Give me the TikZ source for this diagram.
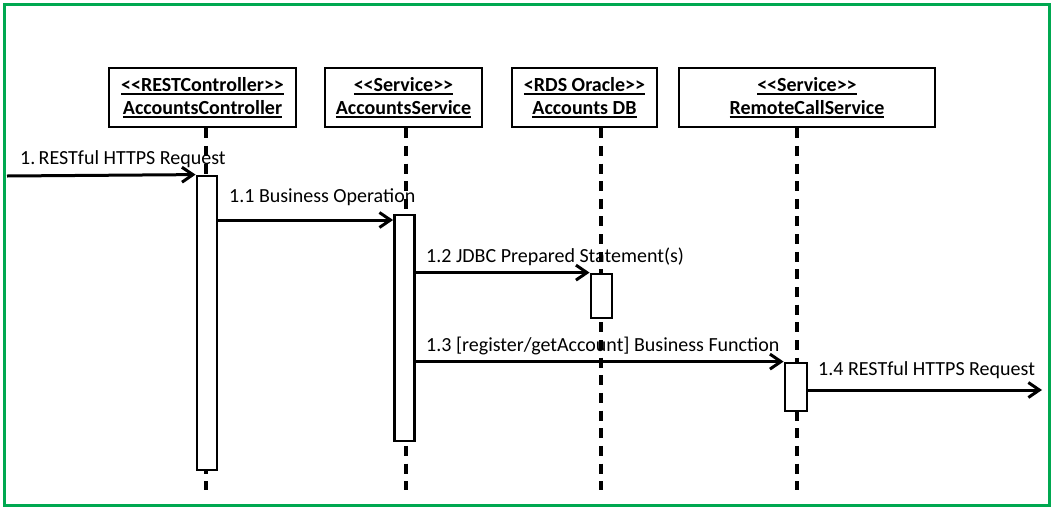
\documentclass[tikz,border=0pt]{standalone}
\usepackage{fontspec}
\setmainfont{Carlito}
\usetikzlibrary{arrows.meta}
\definecolor{frameg}{RGB}{0,168,80}
\newcommand\ulinebox[1]{\setbox0\hbox{#1}\rlap{\rule[-3.2pt]{\wd0}{1.8pt}}\box0}
\begin{document}
\begin{tikzpicture}[x=1pt,y=-1pt,
  every node/.style={font=\fontsize{20}{23}\selectfont, inner sep=0pt},
  lbox/.style={draw, line width=2.4pt, minimum height=59pt, align=center, font=\fontsize{20}{23}\selectfont\bfseries},
  actbox/.style={draw, fill=white, line width=2.8pt, minimum width=20pt},
  life/.style={line width=3.4pt, dash pattern=on 10pt off 7.65pt},
  msg/.style={line width=3pt, -{Straight Barb[length=11pt,width=15pt]}},
  lbl/.style={anchor=base west}]
\useasboundingbox (0,0) rectangle (1054,509);
\draw[frameg, line width=3pt] (4,4) rectangle (1049,505);

% lifeline heads
\node[lbox, minimum width=187pt] (c) at (202.5,97.5) {\ulinebox{<{}<{}RESTController>{}>}\\\ulinebox{AccountsController}};
\node[lbox, minimum width=157pt] (s) at (403.5,97.5) {\ulinebox{<{}<{}Service>{}>}\\\ulinebox{AccountsService}};
\node[lbox, minimum width=145pt] (d) at (584.5,97.5) {\ulinebox{<RDS Oracle>{}>}\\\ulinebox{Accounts DB}};
\node[lbox, minimum width=256pt] (r) at (807,97.5) {\ulinebox{<{}<{}Service>{}>}\\\ulinebox{RemoteCallService}};

% labels
\node[lbl] (t1) at (20,164) {1.\,RESTful HTTPS Request};
\node[lbl] (t11) at (229,202) {1.1 Business Operation};
\node[lbl] (t12) at (426,262) {1.2 JDBC Prepared Statement(s)};
\node[lbl] (t13) at (426,351) {1.3 [register/getAccount] Business Function};
\node[lbl] (t14) at (818,375) {1.4 RESTful HTTPS Request};

% lifelines
\coordinate (cl) at (206,490);
\coordinate (sl) at (406,490);
\coordinate (dl) at (601,490);
\coordinate (rl) at (797,490);
\draw[life] (c.south -| cl) -- (cl);
\draw[life] (s.south -| sl) -- (sl);
\draw[life] (d.south -| dl) -- (dl);
\draw[life] (r.south -| rl) -- (rl);

% activations
\node[actbox, minimum height=294pt] (a1) at (207,323) {};
\node[actbox, minimum height=226pt] (a2) at (404.5,328) {};
\node[actbox, minimum width=21pt, minimum height=44pt] (a3) at (601.5,296) {};
\node[actbox, minimum width=22pt, minimum height=48pt] (a4) at (796,387) {};

% messages
\coordinate (src) at (7,176);
\coordinate (m11) at (0,220);
\coordinate (m14) at (0,390);
\coordinate (dst) at (1042,390);
\draw[msg] (src) -- (a1.north west);
\draw[msg] (a1.east |- m11) -- (a2.west |- m11);
\draw[msg] (a2.east |- a3.north) -- (a3.north west);
\draw[msg] (a2.east |- a4.north) -- (a4.north west);
\draw[msg] (a4.east |- m14) -- (dst);
\end{tikzpicture}
\end{document}
